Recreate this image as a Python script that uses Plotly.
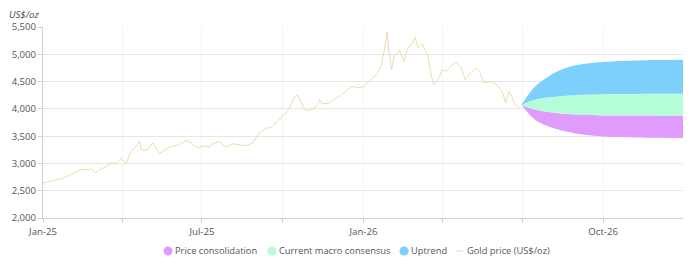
import plotly.graph_objects as go

# ---- Gold price history (US$/oz) ----
gold_dates = [
    "2025-01-01", "2025-01-09", "2025-01-16", "2025-01-24", "2025-01-28", "2025-02-04",
    "2025-02-12", "2025-02-25", "2025-03-02", "2025-03-08", "2025-03-14", "2025-03-20",
    "2025-03-25", "2025-03-31", "2025-04-06", "2025-04-11", "2025-04-17", "2025-04-21",
    "2025-04-23", "2025-04-29", "2025-05-06", "2025-05-10", "2025-05-14", "2025-05-21",
    "2025-05-29", "2025-06-05", "2025-06-13", "2025-06-19", "2025-06-26", "2025-07-02",
    "2025-07-10", "2025-07-13", "2025-07-21", "2025-07-28", "2025-08-05", "2025-08-13",
    "2025-08-20", "2025-08-28", "2025-09-04", "2025-09-12", "2025-09-18", "2025-09-25",
    "2025-10-03", "2025-10-08", "2025-10-14", "2025-10-18", "2025-10-22", "2025-10-27",
    "2025-11-04", "2025-11-10", "2025-11-12", "2025-11-15", "2025-11-23", "2025-12-01",
    "2025-12-06", "2025-12-12", "2025-12-19", "2025-12-25", "2025-12-31", "2026-01-04",
    "2026-01-11", "2026-01-17", "2026-01-21", "2026-01-25", "2026-01-28", "2026-01-30",
    "2026-02-02", "2026-02-05", "2026-02-11", "2026-02-16", "2026-02-20", "2026-02-26",
    "2026-03-01", "2026-03-04", "2026-03-09", "2026-03-12", "2026-03-15", "2026-03-19",
    "2026-03-22", "2026-03-26", "2026-04-01", "2026-04-05", "2026-04-11", "2026-04-16",
    "2026-04-22", "2026-04-27", "2026-05-03", "2026-05-09", "2026-05-14", "2026-05-18",
    "2026-05-26", "2026-06-02", "2026-06-08", "2026-06-12", "2026-06-16", "2026-06-19",
    "2026-06-23", "2026-06-27",
]
gold_price = [
    2638, 2667, 2698, 2730, 2760, 2821,
    2882, 2895, 2833, 2895, 2944, 3017,
    2993, 3097, 3005, 3219, 3311, 3403,
    3250, 3237, 3373, 3281, 3189, 3262,
    3323, 3336, 3421, 3373, 3281, 3323,
    3299, 3360, 3403, 3299, 3360, 3342,
    3323, 3373, 3557, 3642, 3667, 3770,
    3893, 3998, 4200, 4261, 4108, 3972,
    3985, 4077, 4169, 4090, 4108, 4200,
    4242, 4322, 4413, 4383, 4400, 4450,
    4567, 4641, 4781, 5088, 5413, 5057,
    4720, 4965, 5069, 4873, 5088, 5211,
    5314, 5119, 5193, 5070, 5009, 4628,
    4444, 4505, 4720, 4689, 4781, 4862,
    4751, 4536, 4659, 4751, 4659, 4476,
    4505, 4444, 4322, 4108, 4322, 4230,
    4077, 4016,
]

# ---- Scenario bands (US$/oz) ----
fc_dates = ["2026-06-30", "2026-07-15", "2026-07-31", "2026-08-20", "2026-09-10",
            "2026-10-01", "2026-10-20", "2026-11-10", "2026-12-01", "2026-12-31"]
consolidation_low = [4077, 3805, 3678, 3586, 3525, 3495, 3483, 3475, 3470, 3465]
consolidation_high = [4077, 3988, 3943, 3906, 3890, 3880, 3878, 3876, 3875, 3875]
consensus_high = [4077, 4165, 4211, 4242, 4258, 4266, 4271, 4274, 4277, 4279]
uptrend_high = [4077, 4400, 4597, 4752, 4825, 4860, 4878, 4888, 4895, 4900]

# ---- Axis ticks ----
x_tickvals = ["2025-01-01", "2025-04-01", "2025-07-01", "2025-10-01",
              "2026-01-01", "2026-04-01", "2026-07-01", "2026-10-01"]
x_ticktext = ["Jan-25", "", "Jul-25", "", "Jan-26", "", "", "Oct-26"]
y_tickvals = [2000, 2500, 3000, 3500, 4000, 4500, 5000, 5500]

PURPLE = "#E09CFD"
GREEN = "#B5FCD8"
BLUE = "#7DCFFC"
GOLD = "#EDD5A6"

fig = go.Figure()
fig.add_trace(go.Scatter(x=fc_dates, y=consolidation_low, mode="lines",
                         line=dict(width=0, shape="spline"), showlegend=False,
                         hoverinfo="skip"))
fig.add_trace(go.Scatter(x=fc_dates, y=consolidation_high, mode="lines", name="Price consolidation",
                         line=dict(width=0, shape="spline"), fill="tonexty", fillcolor=PURPLE,
                         showlegend=False))
fig.add_trace(go.Scatter(x=fc_dates, y=consensus_high, mode="lines", name="Current macro consensus",
                         line=dict(width=0, shape="spline"), fill="tonexty", fillcolor=GREEN,
                         showlegend=False))
fig.add_trace(go.Scatter(x=fc_dates, y=uptrend_high, mode="lines", name="Uptrend",
                         line=dict(width=0, shape="spline"), fill="tonexty", fillcolor=BLUE,
                         showlegend=False))
fig.add_trace(go.Scatter(x=gold_dates, y=gold_price, mode="lines", name="Gold price (US$/oz)",
                         line=dict(width=0.9, color=GOLD), showlegend=False))

# ---- custom legend (pixel-placed) ----
W, H = 699, 270
L, R, T, B = 43, 16, 27, 52
pw, ph = W - L - R, H - T - B


def px(xp):
    return (xp - L) / pw


def py(yp):
    return (H - B - yp) / ph


LEG_FONT = dict(size=9.3, color="#555555")
leg_y = 251
legend_items = [
    ("Price consolidation", PURPLE, 168, 173),
    ("Current macro consensus", GREEN, 272, 277),
    ("Uptrend", BLUE, 404, 409),
]
shapes = []
annotations = []
for label, col, dot_x, txt_x in legend_items:
    shapes.append(dict(type="circle", xref="paper", yref="paper", xsizemode="pixel",
                       ysizemode="pixel", xanchor=px(dot_x), yanchor=py(leg_y),
                       x0=-4.5, x1=4.5, y0=-4.5, y1=4.5, fillcolor=col, line=dict(width=0)))
    annotations.append(dict(text=label, xref="paper", yref="paper", x=px(txt_x), y=py(leg_y),
                            xanchor="left", yanchor="middle", showarrow=False, font=LEG_FONT))
shapes.append(dict(type="line", xref="paper", yref="paper", x0=px(456), x1=px(463),
                   y0=py(leg_y), y1=py(leg_y), line=dict(color=GOLD, width=1)))
annotations.append(dict(text="Gold price (US$/oz)", xref="paper", yref="paper", x=px(465),
                        y=py(leg_y), xanchor="left", yanchor="middle", showarrow=False,
                        font=LEG_FONT))
annotations.append(dict(text="<i>US$/oz</i>", xref="paper", yref="paper", x=px(7), y=py(15),
                        xanchor="left", yanchor="middle", showarrow=False,
                        font=dict(size=9.6, color="#444444")))

TICK_FONT = dict(size=9.6, color="#555555")
fig.update_layout(
    width=W, height=H,
    margin=dict(l=L, r=R, t=T, b=B, pad=0),
    paper_bgcolor="white", plot_bgcolor="white",
    font=dict(family="Open Sans", size=10, color="#555555"),
    showlegend=False,
    shapes=shapes, annotations=annotations,
    xaxis=dict(range=["2025-01-01", "2026-12-31"], tickvals=x_tickvals, ticktext=x_ticktext,
               showgrid=True, gridcolor="#F3F3F3", gridwidth=1,
               showline=True, linecolor="#D0D0D0", linewidth=1,
               ticks="outside", ticklen=4, tickcolor="#D0D0D0",
               tickfont=TICK_FONT, zeroline=False, fixedrange=True),
    yaxis=dict(range=[2000, 5500], tickvals=y_tickvals, tickformat=",",
               showgrid=True, gridcolor="#E6E6E6", gridwidth=1,
               showline=True, linecolor="#D0D0D0", linewidth=1,
               ticks="outside", ticklen=4, tickcolor="#D0D0D0",
               tickfont=TICK_FONT, zeroline=False, fixedrange=True),
)

fig.write_html("out.html")
